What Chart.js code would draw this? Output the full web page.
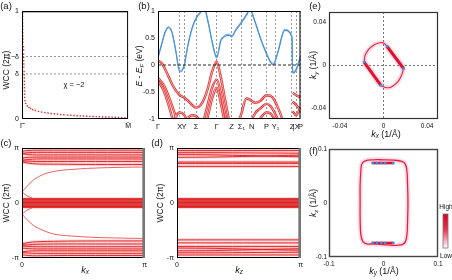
<!DOCTYPE html>
<html>
<head>
<meta charset="utf-8">
<script src="https://cdn.jsdelivr.net/npm/chart.js@4.4.1/dist/chart.umd.min.js"></script>
<style>
body { margin: 0; width: 452px; height: 280px; background: #fff; position: relative; overflow: hidden; }
canvas { position: absolute; }
.t { position: absolute; font-family: 'Liberation Sans', Arial, sans-serif; color: #111; white-space: nowrap; line-height: 1; transform: translate(-50%, -50%); }
.r { transform: translate(-50%, -50%) rotate(-90deg); }
.t sub { font-size: 70%; vertical-align: -0.3em; line-height: 0; }
</style>
</head>
<body>
<canvas id="pa" width="134" height="132" style="left:0;top:0"></canvas>
<canvas id="pb" width="176" height="132" style="left:130px;top:0"></canvas>
<canvas id="pe" width="146" height="132" style="left:306px;top:0"></canvas>
<canvas id="pc" width="150" height="131" style="left:0;top:140px"></canvas>
<canvas id="pd" width="156" height="131" style="left:150px;top:140px"></canvas>
<canvas id="pf" width="146" height="135" style="left:306px;top:135px"></canvas>

<div class="t" style="left:6px;top:5.5px;font-size:9.5px">(a)</div>
<div class="t" style="left:144px;top:5.5px;font-size:9.5px">(b)</div>
<div class="t" style="left:315px;top:5.5px;font-size:9.5px">(e)</div>
<div class="t" style="left:6px;top:142.5px;font-size:9.5px">(c)</div>
<div class="t" style="left:157px;top:142.5px;font-size:9.5px">(d)</div>
<div class="t" style="left:313.5px;top:151px;font-size:9.5px">(f)</div>

<div class="t r" style="left:5.5px;top:70px;font-size:8.5px">WCC (2π)</div>
<div class="t" style="left:74px;top:85px;font-size:7.5px">χ = −2</div>
<div class="t r" style="left:139px;top:66px;font-size:8.5px"><i>E</i> - <i>E</i><sub><i>F</i></sub> (eV)</div>
<div class="t r" style="left:313px;top:65px;font-size:8.5px"><i>k<sub>y</sub></i> (1/Å)</div>
<div class="t" style="left:386px;top:134px;font-size:9px"><i>k<sub>x</sub></i> (1/Å)</div>
<div class="t r" style="left:6px;top:203px;font-size:8.5px">WCC (2π)</div>
<div class="t" style="left:85px;top:270px;font-size:9px"><i>k<sub>x</sub></i></div>
<div class="t r" style="left:160px;top:203px;font-size:8.5px">WCC (2π)</div>
<div class="t" style="left:239px;top:270px;font-size:9px"><i>k<sub>z</sub></i></div>
<div class="t r" style="left:313px;top:203px;font-size:8.5px"><i>k<sub>z</sub></i> (1/Å)</div>
<div class="t" style="left:384px;top:271px;font-size:9px"><i>k<sub>y</sub></i> (1/Å)</div>
<div class="t" style="left:446px;top:207px;font-size:6.5px">High</div>
<div class="t" style="left:446px;top:256px;font-size:6.5px">Low</div>

<script>
const FONT = "'Liberation Sans', Arial, sans-serif";

// (a) Wannier charge centres along Γ̄ - M̄
const wccK   = [0.006, 0.006, 0.006, 0.006, 0.007, 0.007, 0.007, 0.008, 0.008, 0.008,
                0.014, 0.015, 0.015, 0.016, 0.016, 0.017, 0.017,
                0.020, 0.021, 0.021, 0.022, 0.022, 0.023, 0.023, 0.024, 0.025,
                0.028, 0.035, 0.05, 0.065, 0.08, 0.10, 0.125, 0.155, 0.185, 0.215,
                0.245, 0.275, 0.305, 0.335, 0.365, 0.395, 0.43, 0.46, 0.49, 0.52,
                0.55, 0.58, 0.61, 0.64, 0.67, 0.70, 0.73, 0.76, 0.79, 0.82,
                0.85, 0.88, 0.91, 0.94, 0.97, 0.995];
const wccVal = [0.98, 0.95, 0.92, 0.89, 0.86, 0.83, 0.80, 0.77, 0.74, 0.71,
                0.67, 0.64, 0.60, 0.57, 0.54, 0.51, 0.48,
                0.44, 0.41, 0.38, 0.35, 0.32, 0.29, 0.26, 0.23, 0.20,
                0.17, 0.145, 0.122, 0.108, 0.097, 0.087, 0.078, 0.070, 0.064, 0.059,
                0.055, 0.051, 0.048, 0.045, 0.042, 0.039, 0.036, 0.034, 0.032, 0.030,
                0.029, 0.027, 0.026, 0.024, 0.023, 0.022, 0.021, 0.020, 0.019, 0.018,
                0.017, 0.016, 0.014, 0.012, 0.009, 0.006];
const deltaHigh = 0.577;
const deltaLow  = 0.417;

// (b) band structure along the k path
const kPath   = [0, .03, .05, .075, .10, .125, .153, .183, .21, .24, .268, .30, .325, .35, .38, .412,
                 .44, .47, .50, .516, .55, .585, .62, .645, .68, .72, .762, .79, .81, .84, .89, .94,
                 .945, .97, 1.0];
const kTicks  = [0, .153, .183, .268, .412, .516, .585, .657, .762, .825, .94, .97, 1];
const kLabels = ['Γ', 'X', 'Y', 'Σ', 'Γ', 'Z', 'Σ₁', 'N', 'P', 'Y₁', 'Z', '|X', 'P'];
const energyTicks  = [-1, -0.5, 0, 0.5, 1];
const energyLabels = ['-1', '-0.5', '0', '0.5', '1'];

const cond1 = [0.13, 0.42, 0.60, 0.69, 0.58, 0.25, -0.13, -0.02, 0.36, 0.68, 0.86, 0.98, 1.04, 0.81, 0.42, 0.13,
               0.44, 0.53, 0.55, 0.52, 0.66, 0.78, 0.92, 1.02, 0.80, 0.48, 0.20, 0.05, 0.0, 0.22, 0.64, 0.51,
               -0.15, -0.09, 0.15];
const cond2 = [0.15, 0.44, 0.62, 0.71, 0.60, 0.27, -0.11, 0.00, 0.38, 0.70, 0.88, 1.00, 1.06, 0.83, 0.44, 0.15,
               0.46, 0.55, 0.57, 0.54, 0.68, 0.80, 0.94, 1.04, 0.82, 0.50, 0.22, 0.07, 0.03, 0.24, 0.66, 0.53,
               -0.13, -0.07, 0.17];
const N = null;
const val1  = [0.08, 0.02, -0.08, -0.22, -0.36, -0.47, -0.56, -0.60, -0.66, -0.74, -0.79, -0.74, -0.62, -0.43, -0.12, 0.06,
               -0.22, -0.63, -1.05, N, N, N, N, N, N, N, N, N, N, N, N, N, N, N, N];
const val2  = [-0.24, -0.33, -0.42, -0.58, -0.76, -0.95, -1.15, N, N, N, N, N, N, N, N, N,
               N, N, N, N, N, N, N, N, N, N, N, N, N, N, N, N, N, N, N];
const val3  = [-0.30, -0.42, -0.55, -0.75, -0.98, -1.2, N, N, N, N, N, N, N, N, N, N,
               N, N, N, N, N, N, N, N, N, N, N, N, N, N, N, N, N, N, N];
const val4  = [N, N, N, N, -1.1, -0.95, -0.88, -0.92, -1.05, N, N, N, N, N, N, N,
               N, N, N, N, N, N, N, N, N, N, N, N, N, N, N, N, N, N, N];
const val5  = [N, N, N, N, N, N, N, N, -0.97, -0.93, -0.95, -1.05, N, N, N, N,
               N, N, N, N, N, N, N, N, N, N, N, N, N, N, N, N, N, N, N];
const val6  = [N, N, N, N, N, N, N, N, N, N, N, -1.2, -0.98, -0.72, -0.42, -0.27,
               -0.5, -0.9, -1.2, N, N, N, N, N, N, N, N, N, N, N, N, N, N, N, N];
const val7  = [N, N, N, N, N, N, N, N, N, N, N, N, -1.2, -0.95, -0.62, -0.42,
               -0.7, -1.1, N, N, N, N, N, N, N, N, N, N, N, N, N, N, N, N, N];
const val8  = [N, N, N, N, N, N, N, N, N, N, N, N, N, N, N, N,
               N, N, N, N, -1.2, -0.9, -0.62, -0.64, -0.70, -0.66, -0.56, -0.57, -0.62, -0.78, -1.12, N, N, N, N];
const val9  = [N, N, N, N, N, N, N, N, N, N, N, N, N, N, N, N,
               N, N, N, N, N, N, N, -1.1, -0.9, -0.8, -0.72, -0.76, -0.84, -1.0, N, N, N, N, N];
const val10 = [N, N, N, N, N, N, N, N, N, N, N, N, N, N, N, N,
               N, N, N, N, N, N, N, N, -1.15, -0.98, -0.88, -0.9, -0.97, -1.1, N, N, N, N, N];
const val11 = [N, N, N, N, N, N, N, N, N, N, N, N, N, N, N, N,
               N, N, N, N, N, N, N, N, N, N, N, N, N, N, N, N, -0.52, -0.56, -0.60];
const val12 = [N, N, N, N, N, N, N, N, N, N, N, N, N, N, N, N,
               N, N, N, N, N, N, N, N, N, N, N, N, N, N, N, N, -0.68, -0.74, -0.84];
const val13 = [N, N, N, N, N, N, N, N, N, N, N, N, N, N, N, N,
               N, N, N, N, N, N, N, N, N, N, N, N, N, N, N, N, -0.86, -0.93, -0.78];
const valence = [val1, val2, val3, val4, val5, val6, val7, val8, val9, val10, val11, val12, val13];

// (c) WCC evolution along k_x (units of pi)
const cX    = [0, 0.05, 0.12, 0.3, 0.6, 1];
const cTop  = [[0.94, 0.955, 0.96, 0.96, 0.96, 0.96],
               [0.90, 0.915, 0.92, 0.92, 0.92, 0.92],
               [0.895, 0.88, 0.875, 0.875, 0.875, 0.875],
               [0.82, 0.83, 0.835, 0.835, 0.835, 0.835],
               [0.78, 0.79, 0.80, 0.80, 0.80, 0.80],
               [0.765, 0.76, 0.755, 0.755, 0.755, 0.755],
               [0.745, 0.725, 0.71, 0.705, 0.70, 0.70]];
const cBot  = [[-0.94, -0.955, -0.96, -0.955, -0.955, -0.955],
               [-0.90, -0.91, -0.915, -0.915, -0.915, -0.915],
               [-0.89, -0.875, -0.87, -0.87, -0.87, -0.87],
               [-0.82, -0.83, -0.835, -0.835, -0.835, -0.835],
               [-0.78, -0.79, -0.795, -0.795, -0.795, -0.795],
               [-0.765, -0.76, -0.75, -0.745, -0.745, -0.745],
               [-0.745, -0.72, -0.705, -0.695, -0.69, -0.69]];
const cCurveX  = [0, 0.04, 0.094, 0.175, 0.25, 0.4, 0.65, 1];
const cCurveUp = [0.2, 0.3, 0.42, 0.52, 0.57, 0.61, 0.64, 0.655];
const cCurveDn = [-0.2, -0.3, -0.41, -0.5, -0.56, -0.6, -0.63, -0.645];
const cBranchX  = [0, 0.04, 0.085];
const cBranchUp = [0.2, 0.13, 0.085];
const cBranchDn = [-0.2, -0.13, -0.085];
const bandX = [0, 1];
const zeroBand = [0.085, 0.06, 0.035, 0.01, -0.015, -0.04, -0.065, -0.085];

// (d) WCC evolution along k_z
const dX   = [0, 0.3, 0.6, 1];
const dTop = [[0.955, 0.955, 0.955, 0.955],
              [0.915, 0.915, 0.91, 0.905],
              [0.88, 0.875, 0.86, 0.84],
              [0.83, 0.835, 0.85, 0.87],
              [0.745, 0.745, 0.745, 0.745],
              [0.72, 0.72, 0.72, 0.72],
              [0.665, 0.665, 0.665, 0.665]];
const dBot = [[-0.945, -0.945, -0.945, -0.945],
              [-0.905, -0.905, -0.9, -0.895],
              [-0.87, -0.865, -0.85, -0.83],
              [-0.82, -0.825, -0.84, -0.86],
              [-0.79, -0.79, -0.79, -0.79],
              [-0.725, -0.725, -0.725, -0.725],
              [-0.67, -0.67, -0.67, -0.67]];
const piTicks = [-1, 0, 1];
const piLabels = ['-π', '0', 'π'];

// (e) Fermi arcs on the kx-ky plane
const eTopArcX = [-0.0178, -0.0168, -0.0138, -0.0092, -0.0046, 0.0, 0.0031];
const eTopArcY = [0.0031, 0.0096, 0.0149, 0.0189, 0.0211, 0.0211, 0.018];
const eBotArcX = [-0.0024, 0.0016, 0.0062, 0.0117, 0.016, 0.0184];
const eBotArcY = [-0.0186, -0.0205, -0.0205, -0.0168, -0.0106, -0.0028];
const eArc1X = [0.0031, 0.0184],  eArc1Y = [0.018, -0.0028];
const eArc2X = [-0.0178, -0.0024], eArc2Y = [0.0031, -0.0186];
const eNodeX = [0.0031, 0.0184, -0.0178, -0.0024];
const eNodeY = [0.018, -0.0028, 0.0031, -0.0186];
const eTicks = [-0.04, 0, 0.04];

// (f) Fermi surface on the ky-kz plane
const fLoopX = [-0.0429, -0.0429, -0.0416, -0.0398, -0.0337, -0.0184, 0.0, 0.0184, 0.0338, 0.040, 0.043, 0.0442,
                0.0449, 0.0442, 0.043, 0.040, 0.0338, 0.0184, 0.0, -0.0184, -0.0306, -0.038, -0.0416, -0.0429, -0.0429];
const fLoopY = [0.0, 0.0338, 0.0584, 0.072, 0.0781, 0.080, 0.080, 0.0794, 0.0769, 0.072, 0.0584, 0.0338,
                0.0, -0.034, -0.0585, -0.072, -0.077, -0.0783, -0.077, -0.0757, -0.0757, -0.0709, -0.0585, -0.0277, 0.0];
const fArcX = [-0.02, 0.018];
const fArcTopY = [0.074, 0.074];
const fArcBotY = [-0.074, -0.074];
const fNodeX = [-0.02, -0.012, -0.004, 0.003, 0.018, -0.02, -0.012, -0.004, 0.003, 0.018];
const fNodeY = [0.074, 0.074, 0.074, 0.074, 0.074, -0.074, -0.074, -0.074, -0.074, -0.074];
const fTicks = [-0.1, 0, 0.1];

const RED = '#e52a2a';
const BLUE = '#4a93db';

function pts(xs, ys) {
    const out = [];
    xs.forEach((x, i) => { if (ys[i] !== null && ys[i] !== undefined) out.push({ x: x, y: ys[i] }); });
    return out;
}
function line(data, color, width, extra) {
    return Object.assign({ data: data, borderColor: color, borderWidth: width, pointRadius: 0, fill: false, tension: 0 }, extra || {});
}
function axis(pos, min, max, ticks, labels, size, grid, fontSize, pad) {
    return {
        type: 'linear', position: pos, min: min, max: max,
        afterBuildTicks: s => { s.ticks = ticks.map(v => ({ value: v })); },
        afterFit: s => { if (pos === 'bottom') s.height = size; else s.width = size; },
        ticks: { autoSkip: false, maxRotation: 0, padding: pad === undefined ? 3 : pad, color: '#111',
                 font: { family: FONT, size: fontSize || 7 }, callback: (v, i) => labels[i] },
        grid: Object.assign({ display: false, drawTicks: false }, grid || {}),
        border: { display: false, dash: [2, 2] }
    };
}

const framePlugin = {
    id: 'frame',
    afterDatasetsDraw(chart, args, o) {
        if (!o || !o.color) return;
        const a = chart.chartArea, ctx = chart.ctx;
        ctx.save();
        ctx.strokeStyle = o.color;
        ctx.lineWidth = o.width;
        ctx.strokeRect(a.left + 0.5, a.top + 0.5, a.right - a.left - 1, a.bottom - a.top - 1);
        if (o.right) {
            ctx.strokeStyle = o.right;
            ctx.lineWidth = 2.5;
            ctx.beginPath(); ctx.moveTo(a.right - 1, a.top); ctx.lineTo(a.right - 1, a.bottom); ctx.stroke();
        }
        ctx.restore();
    }
};
Chart.register(framePlugin);

function make(id, datasets, xs, ys, pad, frame, extraPlugins) {
    return new Chart(document.getElementById(id), {
        type: 'line',
        data: { datasets: datasets },
        options: {
            responsive: false, animation: false, devicePixelRatio: 1,
            layout: { padding: pad },
            plugins: { legend: { display: false }, tooltip: { enabled: false }, frame: frame },
            scales: { x: xs, y: ys }
        },
        plugins: extraPlugins || []
    });
}

/* (a) */
make('pa', [
    line(pts(wccK, wccVal), RED, 0, { showLine: false, pointRadius: 1, pointStyle: 'rect', pointBackgroundColor: RED, pointBorderWidth: 0, order: 0 }),
    line(pts([0, 1], [deltaHigh, deltaHigh]), '#666', 0.7, { borderDash: [2, 2], order: 1 }),
    line(pts([0, 1], [deltaLow, deltaLow]), '#666', 0.7, { borderDash: [2, 2], order: 1 }),
    line(pts([0, 1], [1, 1]), '#6e6e6e', 3, { order: 2 })
], axis('bottom', 0, 1, [0, 1], ['Γ̄', 'M̄'], 13),
   axis('left', 0, 1, [0, deltaLow, deltaHigh, 1], ['0', 'δ', '1−δ', '1'], 22),
   { top: 11, right: 5 }, { color: '#000', width: 1 });

/* (b) */
const bSets = [];
valence.forEach(v => {
    bSets.push(line(pts(kPath, v), RED, 2.4, { cubicInterpolationMode: 'monotone', order: 3 }));
    bSets.push(line(pts(kPath, v), '#ffffff', 0.6, { cubicInterpolationMode: 'monotone', order: 2 }));
});
bSets.push(line(pts(kPath, cond1), BLUE, 1.2, { cubicInterpolationMode: 'monotone', order: 1 }));
bSets.push(line(pts(kPath, cond2), BLUE, 0.9, { cubicInterpolationMode: 'monotone', order: 1 }));
bSets.push(line(pts([0, 1], [0, 0]), '#111', 0.9, { borderDash: [3, 2], order: 0 }));
make('pb', bSets,
   axis('bottom', 0, 1, kTicks, kLabels, 13, { display: true, drawTicks: false, color: '#555', lineWidth: 0.6 }, 7.5),
   axis('left', -1, 1, energyTicks, energyLabels, 28),
   { top: 11, right: 4 }, { color: '#000', width: 1 });

/* (c) and (d) */
function wccSets(xs, top, bot, extra) {
    const sets = [];
    sets.push(line(pts(bandX, [zeroBand[0], zeroBand[0]]), 'rgba(0,0,0,0)', 0,
        { fill: '+1', backgroundColor: 'rgba(232,40,40,0.7)', order: 5 }));
    sets.push(line(pts(bandX, [zeroBand[7], zeroBand[7]]), 'rgba(0,0,0,0)', 0, { order: 5 }));
    zeroBand.forEach(z => sets.push(line(pts(bandX, [z, z]), 'rgba(215,20,20,0.85)', 1, { order: 2 })));
    top.concat(bot).forEach(v => {
        sets.push(line(pts(xs, v), 'rgba(240,120,120,0.35)', 3, { tension: 0.3, order: 4 }));
        sets.push(line(pts(xs, v), 'rgba(225,25,30,0.9)', 1, { tension: 0.3, order: 1 }));
    });
    return sets.concat(extra || []);
}
make('pc', wccSets(cX, cTop, cBot, [
    line(pts(cCurveX, cCurveUp), 'rgba(230,60,60,0.8)', 1, { cubicInterpolationMode: 'monotone', order: 1 }),
    line(pts(cCurveX, cCurveDn), 'rgba(230,60,60,0.8)', 1, { cubicInterpolationMode: 'monotone', order: 1 }),
    line(pts(cBranchX, cBranchUp), 'rgba(230,60,60,0.8)', 1, { order: 1 }),
    line(pts(cBranchX, cBranchDn), 'rgba(230,60,60,0.8)', 1, { order: 1 })
]), axis('bottom', 0, 1, [0, 1], ['0', 'π'], 13),
   axis('left', -1, 1, piTicks, piLabels, 22),
   { top: 8, right: 4 }, { color: '#000', width: 1, right: '#777' });

make('pd', wccSets(dX, dTop, dBot),
   axis('bottom', 0, 1, [0, 1], ['0', 'π'], 13),
   axis('left', -1, 1, piTicks, piLabels, 27),
   { top: 8, right: 4 }, { color: '#000', width: 1, right: '#777' });

/* (e) */
const zeroGrid = { display: true, drawTicks: false, lineWidth: 0.8,
    color: c => (c.tick && c.tick.value === 0) ? '#555' : 'rgba(0,0,0,0)' };
const GLOW = 'rgba(255,70,130,0.18)';
make('pe', [
    line(pts(eTopArcX, eTopArcY), GLOW, 5, { tension: 0.4, order: 3 }),
    line(pts(eBotArcX, eBotArcY), GLOW, 5, { tension: 0.4, order: 3 }),
    line(pts(eArc1X, eArc1Y), GLOW, 7, { order: 3 }),
    line(pts(eArc2X, eArc2Y), GLOW, 7, { order: 3 }),
    line(pts(eTopArcX, eTopArcY), '#ee1c3c', 1.1, { tension: 0.4, order: 2 }),
    line(pts(eBotArcX, eBotArcY), '#ee1c3c', 1.1, { tension: 0.4, order: 2 }),
    line(pts(eArc1X, eArc1Y), '#e0102e', 3, { order: 1 }),
    line(pts(eArc2X, eArc2Y), '#e0102e', 3, { order: 1 }),
    line(pts(eNodeX, eNodeY), BLUE, 0, { showLine: false, pointRadius: 1.8, pointStyle: 'rect', pointBackgroundColor: '#3b8de6', pointBorderWidth: 0, order: 0 })
], axis('bottom', -0.05, 0.05, eTicks, ['-0.04', '0', '0.04'], 13, zeroGrid, 6.5),
   axis('left', -0.05, 0.05, eTicks, ['-0.04', '0', '0.04'], 23, zeroGrid, 6.5),
   { top: 12, right: 14 }, { color: '#333', width: 1.2 });

/* (f) */
const colorBar = {
    id: 'colorBar',
    afterDraw(chart) {
        const ctx = chart.ctx;
        const x = 137, y = 79, w = 5, h = 34;
        const g = ctx.createLinearGradient(0, y, 0, y + h);
        g.addColorStop(0, '#d4001e');
        g.addColorStop(0.45, '#ec3050');
        g.addColorStop(1, '#ffffff');
        ctx.save();
        ctx.fillStyle = g;
        ctx.fillRect(x, y, w, h);
        ctx.strokeStyle = '#777';
        ctx.lineWidth = 0.8;
        ctx.strokeRect(x, y, w, h);
        ctx.restore();
    }
};
make('pf', [
    line(pts(fLoopX, fLoopY), GLOW, 5, { tension: 0.4, order: 3 }),
    line(pts(fLoopX, fLoopY), '#ee1c3c', 1.3, { tension: 0.4, order: 2 }),
    line(pts(fArcX, fArcTopY), '#e0102e', 2.6, { order: 1 }),
    line(pts(fArcX, fArcBotY), '#e0102e', 2.6, { order: 1 }),
    line(pts(fNodeX, fNodeY), BLUE, 0, { showLine: false, pointRadius: 1.8, pointStyle: 'rect', pointBackgroundColor: '#3b8de6', pointBorderWidth: 0, order: 0 })
], axis('bottom', -0.1, 0.1, fTicks, ['-0.1', '0', '0.1'], 13, null, 6.5),
   axis('left', -0.1, 0.1, fTicks, ['-0.1', '0', '0.1'], 23, null, 6.5, 2),
   { top: 14, right: 14 }, { color: '#444', width: 1.4 }, [colorBar]);
</script>
</body>
</html>
